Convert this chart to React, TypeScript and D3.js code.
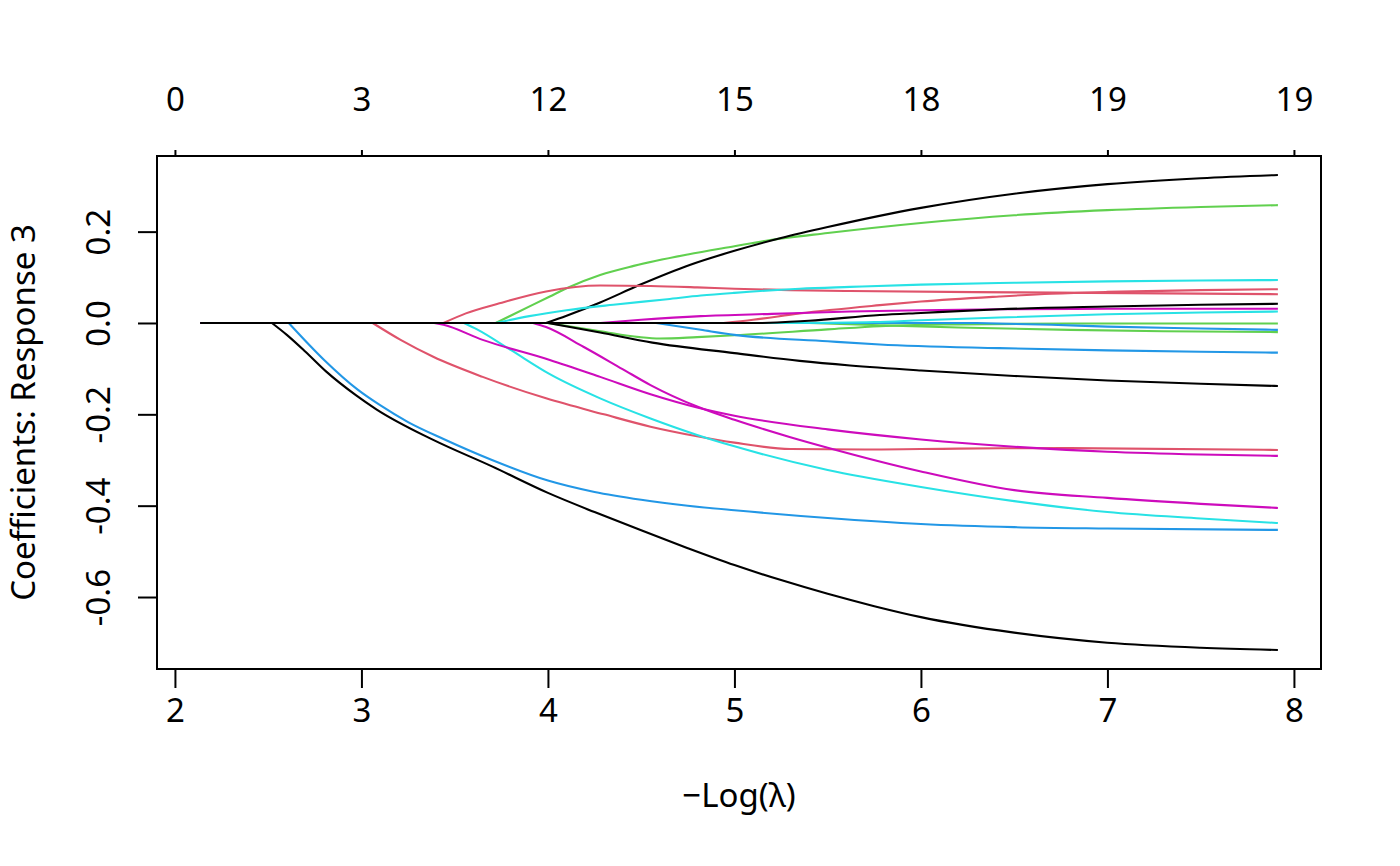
import React, { useEffect, useRef } from 'react';
import * as d3 from 'd3';

type Pt = [number, number];

// -log(lambda) at the start of the path, where every coefficient is still zero
const LOG_LAMBDA_START = 2.135;

const X_TICKS = [2, 3, 4, 5, 6, 7, 8];
const Y_TICKS = [-0.6, -0.4, -0.2, 0.0, 0.2];
const DF_LABELS = ['0', '3', '12', '15', '18', '19', '19'];
const PALETTE = ['#000000', '#DF536B', '#61D04F', '#2297E6', '#28E2E5', '#CD0BBC'];

// Coefficient paths per variable: [-log(lambda), coef]. First point = where it leaves zero.
const v01: Pt[] = [[2.52, 0], [2.6, -0.026], [2.7, -0.063], [2.81, -0.106], [2.97, -0.158], [3.08, -0.189], [3.385, -0.256], [3.7, -0.314], [4.0, -0.372], [4.25, -0.414], [4.5, -0.454], [4.75, -0.493], [5.0, -0.53], [5.25, -0.563], [5.5, -0.593], [5.75, -0.62], [6.0, -0.644], [6.5, -0.678], [7.0, -0.7], [7.5, -0.711], [7.914, -0.716]];
const v02: Pt[] = [[3.06, 0], [3.21, -0.037], [3.385, -0.074], [3.65, -0.118], [3.99, -0.165], [4.3, -0.2], [4.55, -0.227], [4.8, -0.248], [5.0, -0.262], [5.3, -0.276], [5.7, -0.277], [6.2, -0.275], [6.8, -0.274], [7.914, -0.278]];
const v03: Pt[] = [[3.72, 0], [4.01, 0.058], [4.1, 0.076], [4.28, 0.105], [4.46, 0.125], [4.75, 0.15], [5.0, 0.168], [5.17, 0.18], [5.5, 0.197], [6.0, 0.219], [6.5, 0.236], [7.0, 0.247], [7.5, 0.254], [7.914, 0.258]];
const v04: Pt[] = [[2.61, 0], [2.8, -0.081], [2.98, -0.146], [3.1, -0.18], [3.25, -0.217], [3.44, -0.254], [3.7, -0.3], [4.0, -0.345], [4.25, -0.37], [4.5, -0.387], [4.75, -0.4], [5.0, -0.41], [5.5, -0.427], [6.0, -0.44], [6.5, -0.447], [7.0, -0.45], [7.914, -0.453]];
const v05: Pt[] = [[3.55, 0], [3.62, -0.014], [3.8, -0.059], [4.01, -0.112], [4.28, -0.165], [4.55, -0.209], [4.8, -0.245], [5.0, -0.27], [5.5, -0.322], [6.0, -0.359], [6.5, -0.39], [7.0, -0.414], [7.5, -0.428], [7.914, -0.438]];
const v06: Pt[] = [[3.39, 0], [3.44, -0.004], [3.65, -0.037], [4.01, -0.081], [4.28, -0.118], [4.55, -0.156], [4.8, -0.185], [5.0, -0.203], [5.5, -0.233], [6.0, -0.255], [6.5, -0.271], [7.0, -0.282], [7.5, -0.288], [7.914, -0.291]];
const v07: Pt[] = [[3.99, 0], [4.1, 0.016], [4.28, 0.045], [4.49, 0.083], [4.76, 0.127], [5.0, 0.158], [5.25, 0.186], [5.5, 0.21], [6.0, 0.252], [6.5, 0.283], [7.0, 0.304], [7.5, 0.317], [7.914, 0.324]];
const v08: Pt[] = [[3.44, 0], [3.56, 0.021], [3.74, 0.043], [3.99, 0.069], [4.28, 0.082], [4.55, 0.081], [4.8, 0.078], [5.0, 0.075], [5.3, 0.072], [5.62, 0.07], [6.5, 0.067], [7.914, 0.063]];
const v09: Pt[] = [[4.0, 0], [4.28, -0.018], [4.49, -0.031], [4.6, -0.034], [4.8, -0.031], [5.0, -0.027], [5.5, -0.014], [5.78, -0.007], [6.2, -0.003], [6.8, -0.001], [7.914, -0.001]];
const v10: Pt[] = [[4.58, 0], [4.82, -0.015], [5.0, -0.026], [5.5, -0.04], [5.78, -0.047], [6.42, -0.055], [7.0, -0.06], [7.5, -0.063], [7.914, -0.065]];
const v11: Pt[] = [[3.72, 0], [3.9, 0.015], [4.1, 0.028], [4.35, 0.04], [4.64, 0.052], [4.82, 0.06], [5.0, 0.066], [5.35, 0.075], [5.62, 0.079], [6.0, 0.084], [6.5, 0.088], [7.0, 0.091], [7.5, 0.093], [7.914, 0.094]];
const v12: Pt[] = [[3.92, 0], [3.99, -0.009], [4.19, -0.052], [4.4, -0.101], [4.55, -0.136], [4.8, -0.183], [5.0, -0.212], [5.3, -0.25], [5.5, -0.273], [6.0, -0.325], [6.5, -0.366], [7.0, -0.383], [7.5, -0.396], [7.914, -0.405]];
const v13: Pt[] = [[4.0, 0], [4.28, -0.021], [4.56, -0.043], [5.0, -0.066], [5.35, -0.083], [5.62, -0.093], [6.0, -0.104], [6.5, -0.116], [7.0, -0.126], [7.5, -0.133], [7.914, -0.138]];
const v14: Pt[] = [[4.94, 0], [5.1, 0.007], [5.35, 0.021], [5.78, 0.039], [6.0, 0.047], [6.42, 0.058], [6.7, 0.064], [7.0, 0.068], [7.5, 0.072], [7.914, 0.074]];
const v15: Pt[] = [[5.4, 0], [5.78, -0.005], [6.2, -0.01], [6.8, -0.015], [7.3, -0.018], [7.914, -0.02]];
const v16: Pt[] = [[6.3, 0], [6.7, -0.004], [7.0, -0.008], [7.5, -0.012], [7.914, -0.015]];
const v17: Pt[] = [[5.3, 0], [5.75, 0.002], [6.0, 0.006], [6.42, 0.012], [7.0, 0.019], [7.5, 0.023], [7.914, 0.025]];
const v18: Pt[] = [[4.28, 0], [4.5, 0.007], [4.82, 0.015], [5.2, 0.02], [5.62, 0.025], [6.0, 0.028], [6.42, 0.03], [7.0, 0.031], [7.914, 0.031]];
const v19: Pt[] = [[5.15, 0], [5.4, 0.005], [5.78, 0.0175], [6.0, 0.022], [6.42, 0.03], [7.0, 0.036], [7.5, 0.04], [7.914, 0.042]];

const PATHS = [v01, v02, v03, v04, v05, v06, v07, v08, v09, v10, v11, v12, v13, v14, v15, v16, v17, v18, v19];

const WIDTH = 1400;
const HEIGHT = 866;
const FONT = "'Noto Sans', 'Open Sans', sans-serif";
const FONT_SIZE = 33;

// R-style axis range: data extent widened by 4% on each side
const padRange = ([lo, hi]: [number, number]): [number, number] => {
  const r = (hi - lo) * 0.04;
  return [lo - r, hi + r];
};

export default function App() {
  const svgRef = useRef<SVGSVGElement>(null);

  useEffect(() => {
    if (!svgRef.current) return;

    const margin = { top: 156, right: 79, bottom: 197, left: 157 };
    const innerWidth = WIDTH - margin.left - margin.right;
    const innerHeight = HEIGHT - margin.top - margin.bottom;

    d3.select(svgRef.current).selectAll('*').remove();
    const svg = d3.select(svgRef.current);

    const allX = [LOG_LAMBDA_START, ...PATHS.flatMap(p => p.map(d => d[0]))];
    const allY = PATHS.flatMap(p => p.map(d => d[1]));

    const x = d3.scaleLinear()
      .domain(padRange(d3.extent(allX) as [number, number]))
      .range([margin.left, margin.left + innerWidth]);

    const y = d3.scaleLinear()
      .domain(padRange(d3.extent(allY) as [number, number]))
      .range([margin.top + innerHeight, margin.top]);

    // Coefficient paths: flat zero part, then the curve once the variable enters
    const flat = d3.line<Pt>().x(d => x(d[0])).y(d => y(d[1]));
    const curve = d3.line<Pt>().x(d => x(d[0])).y(d => y(d[1])).curve(d3.curveMonotoneX);

    const paths = svg.append('g').attr('fill', 'none').attr('stroke-width', 2.1);
    PATHS.forEach((p, i) => {
      const zeroPart: Pt[] = [[LOG_LAMBDA_START, 0], p[0]];
      paths.append('path')
        .attr('d', (flat(zeroPart) || '') + (curve(p) || ''))
        .attr('stroke', PALETTE[i % PALETTE.length])
        .attr('stroke-linejoin', 'round');
    });

    // Plot box
    svg.append('rect')
      .attr('x', margin.left)
      .attr('y', margin.top)
      .attr('width', innerWidth)
      .attr('height', innerHeight)
      .attr('fill', 'none')
      .attr('stroke', '#000')
      .attr('stroke-width', 2);

    const styleAxis = (g: d3.Selection<SVGGElement, unknown, null, undefined>) => {
      g.attr('font-family', FONT).attr('font-size', FONT_SIZE);
      g.selectAll('.tick line').attr('stroke', '#000').attr('stroke-width', 2);
      g.selectAll('.tick text').attr('fill', '#000');
      g.select('.domain').attr('stroke', '#000').attr('stroke-width', 2);
    };

    // Bottom axis: -log(lambda)
    svg.append('g')
      .attr('transform', `translate(0,${margin.top + innerHeight})`)
      .call(d3.axisBottom(x).tickValues(X_TICKS).tickSize(19).tickSizeOuter(0).tickPadding(11)
        .tickFormat(d => String(d)) as any)
      .call(styleAxis as any)
      .select('.domain')
      .attr('d', `M${x(X_TICKS[0])},0H${x(X_TICKS[X_TICKS.length - 1])}`);

    // Top axis: number of non-zero coefficients
    svg.append('g')
      .attr('transform', `translate(0,${margin.top})`)
      .call(d3.axisTop(x).tickValues(X_TICKS).tickSize(6).tickSizeOuter(0).tickPadding(39)
        .tickFormat((_, i) => DF_LABELS[i]) as any)
      .call(styleAxis as any)
      .select('.domain')
      .attr('d', `M${x(X_TICKS[0])},0H${x(X_TICKS[X_TICKS.length - 1])}`);

    // Left axis with rotated labels
    const left = svg.append('g')
      .attr('transform', `translate(${margin.left},0)`)
      .call(d3.axisLeft(y).tickValues(Y_TICKS).tickSize(19).tickSizeOuter(0)
        .tickFormat(d => (+d).toFixed(1)) as any)
      .call(styleAxis as any);
    left.select('.domain')
      .attr('d', `M0,${y(Y_TICKS[0])}V${y(Y_TICKS[Y_TICKS.length - 1])}`);
    left.selectAll('.tick text')
      .attr('x', null)
      .attr('dy', null)
      .attr('text-anchor', 'middle')
      .attr('transform', `translate(${110 - margin.left},0) rotate(-90)`);

    // Axis titles
    svg.append('text')
      .attr('x', margin.left + innerWidth / 2)
      .attr('y', 807)
      .attr('text-anchor', 'middle')
      .attr('font-family', FONT)
      .attr('font-size', FONT_SIZE)
      .attr('fill', '#000')
      .text('\u2212Log(\u03bb)');

    svg.append('text')
      .attr('transform', `translate(35,${margin.top + innerHeight / 2}) rotate(-90)`)
      .attr('text-anchor', 'middle')
      .attr('font-family', FONT)
      .attr('font-size', FONT_SIZE)
      .attr('fill', '#000')
      .text('Coefficients: Response 3');
  }, []);

  return (
    <svg
      ref={svgRef}
      width={WIDTH}
      height={HEIGHT}
      style={{ position: 'absolute', left: 0, top: 0, background: '#fff' }}
    />
  );
}
